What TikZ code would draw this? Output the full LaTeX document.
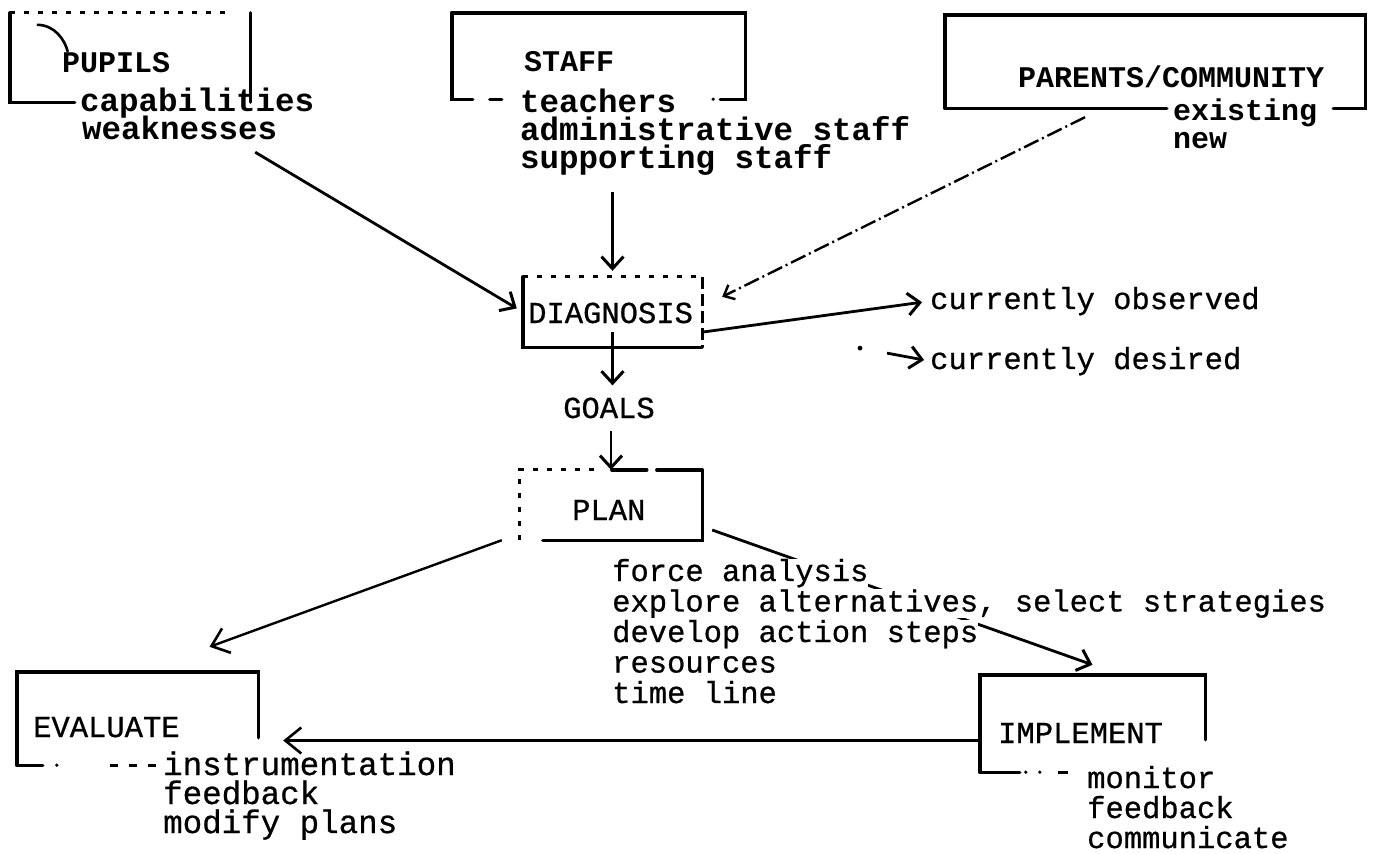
\documentclass[tikz,border=0pt]{standalone}
\usepackage{fontspec}
\setmonofont{Liberation Mono}
\newfontfamily\medmono{Liberation Mono}[FakeBold=0.7]
\usetikzlibrary{arrows.meta,calc}
\newcommand{\mytw}[1]{\fontsize{#1}{#1}\selectfont\ttfamily}
\newcommand{\mymd}[1]{\fontsize{#1}{#1}\selectfont\medmono}
\tikzset{
  frame/.style={line width=3.4pt, line cap=round},
  dotframe/.style={line width=2.8pt, dash pattern=on 5pt off 9pt},
  arr/.style={line width=2.8pt, -{Straight Barb[length=12pt,width=22pt,line width=3pt]}},
  openarr/.style={line width=2.4pt, -{Straight Barb[length=16pt,width=26pt,line width=2.6pt]}},
  lbl/.style={anchor=base west, inner sep=0pt},
  hv/.style={font=\mytw{30}\bfseries},
  it/.style={font=\mytw{32.5}\bfseries},
  lo/.style={font=\mymd{30.5}},
  lob/.style={font=\mymd{32.5}},
  area/.style={draw=none, inner sep=0pt, rectangle},
  cut/.style={fill=white},
}
\begin{document}
\begin{tikzpicture}[x=1pt,y=-1pt]
\fill[white] (0,0) rectangle (1374,854);
\useasboundingbox (0,0) rectangle (1374,854);

% box areas
\node[area, minimum width=240pt, minimum height=89pt] (pupils) at (130,57.5) {};
\node[area, minimum width=293pt, minimum height=86pt] (staff) at (598.5,56) {};
\node[area, minimum width=420pt, minimum height=93pt] (parents) at (1155,61.5) {};
\node[area, minimum width=179pt, minimum height=70pt] (diag) at (612.5,312) {};
\node[area, minimum width=182pt, minimum height=70pt] (plan) at (611,505) {};
\node[area, minimum width=241pt, minimum height=93pt] (eval) at (137.5,718.5) {};
\node[area, minimum width=225pt, minimum height=97pt] (impl) at (1092.5,723.5) {};

% texts
\node[lbl,hv] (tpupils) at (62,72) {PUPILS};
\node[lbl,it] (c1) at (80,111) {capabilities};
\node[lbl,it] (c2) at (82,139) {weaknesses};
\node[lbl,hv] (tstaff) at (524,71) {STAFF};
\node[lbl,it] (s1) at (520,112) {teachers};
\node[lbl,it] (s2) at (520,140) {administrative staff};
\node[lbl,it] (s3) at (520,168) {supporting staff};
\node[lbl,hv] (tparents) at (1018,87) {PARENTS/COMMUNITY};
\node[lbl,hv] (e1) at (1173,120) {existing};
\node[lbl,hv] (e2) at (1173,148) {new};
\node[lbl,lo] (tdiag) at (528,323) {DIAGNOSIS};
\node[lbl,lo] (obs) at (930,309) {currently observed};
\node[lbl,lo] (des) at (930,369) {currently desired};
\node[lbl,lo] (goals) at (563,418) {GOALS};
\node[lbl,lo] (tplan) at (572,520) {PLAN};
\node[lbl,lo] (teval) at (33,737) {EVALUATE};
\node[lbl,lob] (v1) at (163,775) {instrumentation};
\node[lbl,lob] (v2) at (163,804) {feedback};
\node[lbl,lob] (v3) at (163,833) {modify plans};
\node[lbl,lo] (timpl) at (998,743) {IMPLEMENT};
\node[lbl,lo] (m1) at (1087,788) {monitor};
\node[lbl,lo] (m2) at (1087,818) {feedback};
\node[lbl,lo] (m3) at (1087,848) {communicate};

% frames
\draw[frame] (pupils.north west) -- (pupils.south west) -- ++(65,0);
\draw[frame] (pupils.north east) -- (pupils.south east);
\draw[dotframe] (pupils.north west) -- ++(220,0);
\draw[line width=2.6pt] ($(pupils.north west)+(27,12)$) .. controls +(18,0) and +(-3,-12) .. ($(pupils.north west)+(58,39)$);

\draw[frame] (staff.north west) -- (staff.north east) -- (staff.south east) -- ++(-25,0);
\draw[frame] (staff.north west) -- (staff.south west) -- ++(21,0);
\draw[frame] ($(staff.south west)+(38,0)$) -- ++(12,0);
\fill ($(staff.south east)+(-32,0)$) circle (1.8);

\draw[frame] (parents.south west) -- (parents.north west) -- (parents.north east) -- (parents.south east) -- ++(-32,0);
\draw[frame] (parents.south west) -- ++(222,0);

\draw[frame] (diag.north west) -- (diag.south west) -- (diag.south east);
\draw[dotframe] (diag.north west) -- (diag.north east);
\draw[line width=2.8pt, dash pattern=on 12pt off 5pt] (diag.north east) -- (diag.south east);

\draw[frame] (plan.north east) -- (plan.south east) -- ($(plan.south west)+(23,0)$);
\draw[dotframe] (plan.south west) -- (plan.north west) -- ($(plan.north west)+(82,0)$);
\draw[frame] ($(plan.north west)+(92,0)$) -- ++(35,0);
\draw[frame] ($(plan.north west)+(137,0)$) -- (plan.north east);

\draw[frame] (eval.south west) -- (eval.north west) -- (eval.north east) -- ++(0,66);
\draw[frame] (eval.south west) -- ++(26,0);
\fill ($(eval.south west)+(40,0)$) circle (1.8);
\draw[line width=2.6pt, dash pattern=on 8pt off 11pt] ($(eval.south west)+(93,0)$) -- ++(52,0);

\draw[frame] (impl.south west) -- (impl.north west) -- (impl.north east) -- ++(0,65);
\draw[frame] (impl.south west) -- ++(40,0);
\fill ($(impl.south west)+(46,0)$) circle (1.8);
\fill ($(impl.south west)+(60,0)$) circle (1.8);
\draw[line width=2.6pt] ($(impl.south west)+(78,0)$) -- ++(10,0);

% connectors
\draw[arr, shorten >=7pt] ($(pupils.south east)+(5,50)$) -- (diag.west);
\draw[arr, shorten >=6pt] ($(staff.south)+(14,93)$) -- (diag.north);
\draw[line width=2.4pt, dash pattern=on 16pt off 4pt on 2pt off 4pt, -{Straight Barb[length=9pt,width=16pt,line width=2.4pt]}] ($(parents.south)+(-70,9)$) -- ($(diag.north east)+(20,20)$);
\draw[arr, shorten >=8pt] ($(diag.east)+(1,20)$) -- (obs.west);
\fill ($(des.west)+(-70,-13)$) circle (2.4);
\draw[arr, shorten >=6pt] ($(des.west)+(-43,-8)$) -- (des.west);
\draw[arr, shorten >=12pt] ($(diag.south)+(0,-15)$) -- (goals.north -| diag.south);
\draw[arr] ($(plan.north |- goals.south)+(0,12)$) -- (plan.north);
\draw[arr] ($(plan.east)+(10,25)$) -- ($(impl.north)+(0,-10)$);
\draw[openarr] ($(plan.south west)+(-18,0)$) -- ($(eval.north)+(72,-25)$);
\draw[openarr] ($(impl.west)+(0,17)$) -- ($(eval.east |- impl.west)+(25,17)$);

% plan items (drawn last, cutting the arrow)
\node[lbl,lo,cut] (p1) at (612,581) {force analysis};
\node[lbl,lo,cut] (p2) at (612,611.5) {explore alternatives, select strategies};
\node[lbl,lo,cut] (p3) at (612,642) {develop action steps};
\node[lbl,lo,cut] (p4) at (612,672.5) {resources};
\node[lbl,lo,cut] (p5) at (612,703) {time line};
\end{tikzpicture}
\end{document}
